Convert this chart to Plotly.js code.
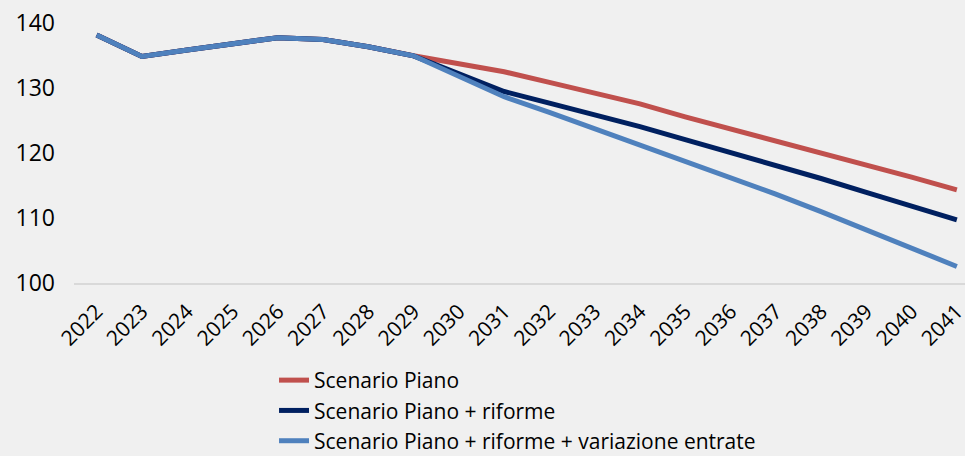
<!DOCTYPE html>
<html>
<head>
<meta charset="utf-8">
<script src="https://cdn.plot.ly/plotly-3.0.1.min.js"></script>
<style>
html,body{margin:0;padding:0;background:#f0f0f0;}
#chart{width:965px;height:456px;}
</style>
</head>
<body>
<div id="chart"></div>
<script>
const years = ["2022","2023","2024","2025","2026","2027","2028","2029","2030","2031","2032","2033","2034","2035","2036","2037","2038","2039","2040","2041"];
const seriesNames = ["Scenario Piano","Scenario Piano + riforme","Scenario Piano + riforme + variazione entrate"];
const piano = [138.2,134.9,135.9,136.9,137.8,137.5,136.4,135.0,133.8,132.55,130.9,129.25,127.6,125.6,123.75,121.9,120.1,118.2,116.3,114.35];
const pianoRiforme = [138.2,134.9,135.9,136.9,137.8,137.5,136.4,135.0,132.3,129.5,127.7,125.9,124.1,122.1,120.15,118.2,116.1,113.97,111.85,109.74];
const pianoRiformeEntrate = [138.2,134.9,135.9,136.9,137.8,137.5,136.4,135.0,131.9,128.7,126.3,123.8,121.4,118.8,116.3,113.7,111.0,108.2,105.3,102.55];
const colors = ["#c0504d","#002060","#4f81bd"];
const yTicks = [100,110,120,130,140];

const allSeries = [piano, pianoRiforme, pianoRiformeEntrate];
const traces = [0,1,2].map(i => ({
  x: years, y: allSeries[i], name: seriesNames[i], type: 'scatter', mode: 'lines',
  line: {color: colors[i], width: 5}, hoverinfo: 'skip'
}));

const fam = '"Open Sans", "Liberation Sans", Arial, sans-serif';
const layout = {
  width: 965, height: 456,
  paper_bgcolor: '#f0f0f0', plot_bgcolor: '#f0f0f0',
  margin: {l: 74, r: 0, t: 0, b: 173, pad: 0, autoexpand: false},
  font: {family: fam, color: '#000', size: 21},
  showlegend: true,
  legend: {orientation: 'v', x: 0.2245, xanchor: 'left', y: -0.272, yanchor: 'top',
           bgcolor: 'rgba(0,0,0,0)', font: {family: fam, size: 21, color: '#000'},
           tracegroupgap: 0, borderwidth: 0},
  xaxis: {type: 'category', range: [-0.5, 19.18], tickangle: -45, showgrid: false,
          showline: true, linecolor: '#d9d9d9', linewidth: 2, ticks: '', automargin: false,
          tickfont: {family: fam, size: 21, color: '#000'}, ticklabelstandoff: 6, fixedrange: true},
  yaxis: {range: [100, 143.6], tickvals: yTicks, showgrid: false, zeroline: false, automargin: false,
          showline: false, ticks: '', tickfont: {family: fam, size: 23, color: '#000'},
          ticklabelstandoff: 18, fixedrange: true}
};
Plotly.newPlot('chart', traces, layout, {displayModeBar: false, staticPlot: true});
</script>
</body>
</html>
